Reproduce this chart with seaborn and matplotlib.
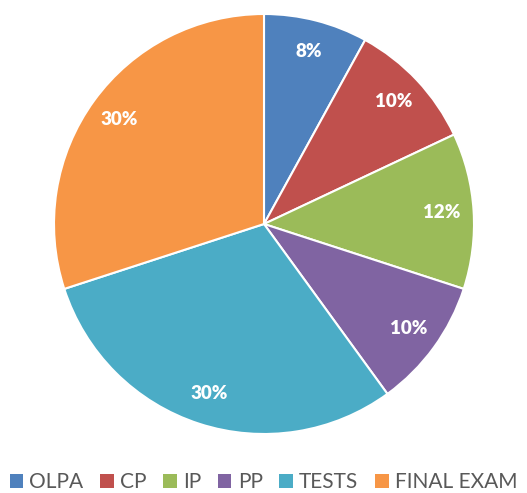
import seaborn as sns
import matplotlib.pyplot as plt
from matplotlib.patches import Patch

# Data
categories = ['OLPA', 'CP', 'IP', 'PP', 'TESTS', 'FINAL EXAM']
shares = [8, 10, 12, 10, 30, 30]
colors = ['#4F81BD', '#C0504D', '#9BBB59', '#8064A2', '#4BACC6', '#F79646']

sns.set_theme(style='white')
plt.rcParams['font.family'] = ['Lato', 'DejaVu Sans']

fig = plt.figure(figsize=(5.27, 4.93), dpi=100)
# pie centre ~ (264, 224) px, radius ~ 210 px
ax = fig.add_axes([(264 - 212) / 527, (493 - 224 - 212) / 493, 424 / 527, 424 / 493])

wedges, texts, autotexts = ax.pie(
    shares, colors=colors, startangle=90, counterclock=False,
    radius=210 / 212, autopct='%d%%', pctdistance=0.85,
    wedgeprops=dict(edgecolor='white', linewidth=1.5),
    textprops=dict(color='white', fontsize=13.5, fontweight='heavy'))
ax.set_xlim(-1, 1)
ax.set_ylim(-1, 1)
ax.set_aspect('equal')
ax.axis('off')

handles = [Patch(facecolor=c, edgecolor='none') for c in colors]
fig.legend(handles, categories, loc='center', bbox_to_anchor=(0.5, (493 - 482) / 493),
           ncol=6, frameon=False, fontsize=15, handlelength=0.65, handleheight=0.65,
           handletextpad=0.3, columnspacing=0.8, labelcolor='#595959')

fig.savefig('out.png', dpi=100, facecolor='white')
